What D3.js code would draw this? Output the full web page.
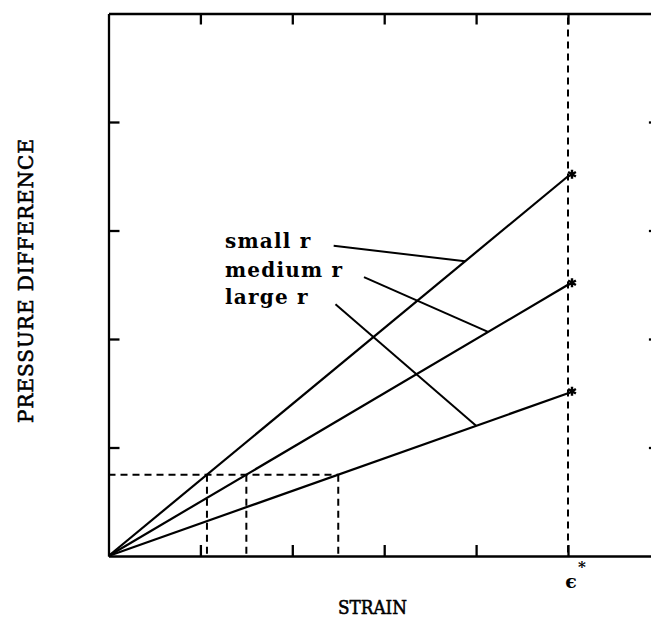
<!DOCTYPE html>
<html>
<head>
<meta charset="utf-8">
<script src="https://cdn.jsdelivr.net/npm/d3@7"></script>
<style>
  html, body { margin: 0; padding: 0; background: #fff; }
  svg { display: block; }
  text { font-family: "DejaVu Serif", "Liberation Serif", serif; fill: #000; }
</style>
</head>
<body>
<svg id="chart" width="651" height="620"></svg>
<script>
// Pressure difference vs. strain for three tube radii, each loaded up to the critical strain ε*
const seriesNames = ["small r", "medium r", "large r"];
const strainPoints = [0, 5];             // strain at origin and at ε*
const pressureSmall = [0, 3.5];
const pressureMedium = [0, 2.5];
const pressureLarge = [0, 1.5];
const pressureSeries = [pressureSmall, pressureMedium, pressureLarge];
const criticalStrain = 5;                // ε*
const referencePressure = 0.75;          // common pressure level (dashed)
const leaderStrain = [3.88, 4.13, 4.0];  // where each label's leader meets its line
const xTickValues = [1, 2, 3, 4, 5];
const yTickValues = [1, 2, 3, 4];

const svg = d3.select("#chart");

const x = d3.scaleLinear().domain([0, 6]).range([108.5, 659.9]);
const y = d3.scaleLinear().domain([0, 5]).range([556, 13.5]);

const axisStroke = 2.3;
const tick = 11;

function styleAxis(g) {
  g.selectAll("path.domain").attr("stroke", "#000").attr("stroke-width", axisStroke);
  g.selectAll(".tick line").attr("stroke", "#000").attr("stroke-width", axisStroke);
  g.selectAll(".tick text").remove();
}

// frame: four axes with inward ticks, no labels
svg.append("g").attr("transform", `translate(0,${y(0)})`)
  .call(d3.axisBottom(x).tickValues(xTickValues).tickSizeInner(-tick).tickSizeOuter(0).tickFormat(""))
  .call(styleAxis);
svg.append("g").attr("transform", `translate(0,${y(5)})`)
  .call(d3.axisTop(x).tickValues(xTickValues).tickSizeInner(-tick).tickSizeOuter(0).tickFormat(""))
  .call(styleAxis);
svg.append("g").attr("transform", `translate(${x(0)},0)`)
  .call(d3.axisLeft(y).tickValues(yTickValues).tickSizeInner(-tick).tickSizeOuter(0).tickFormat(""))
  .call(styleAxis);
svg.append("g").attr("transform", `translate(${x(6)},0)`)
  .call(d3.axisRight(y).tickValues(yTickValues).tickSizeInner(-tick).tickSizeOuter(0).tickFormat(""))
  .call(styleAxis);

const dash = "7,5";
const slopes = pressureSeries.map(p => (p[1] - p[0]) / (strainPoints[1] - strainPoints[0]));
const crossStrain = slopes.map(s => referencePressure / s);

// vertical dashed line at ε*
svg.append("line")
  .attr("x1", x(criticalStrain)).attr("x2", x(criticalStrain))
  .attr("y1", y(5) + 4).attr("y2", y(0))
  .attr("stroke", "#000").attr("stroke-width", 2).attr("stroke-dasharray", dash);

// horizontal dashed reference level, out to the shallowest line
svg.append("line")
  .attr("x1", x(0)).attr("x2", x(d3.max(crossStrain)))
  .attr("y1", y(referencePressure)).attr("y2", y(referencePressure))
  .attr("stroke", "#000").attr("stroke-width", 2).attr("stroke-dasharray", dash);

// vertical dashed drops from each crossing
svg.selectAll("line.drop").data(crossStrain).join("line")
  .attr("class", "drop")
  .attr("x1", d => x(d)).attr("x2", d => x(d))
  .attr("y1", y(referencePressure)).attr("y2", y(0))
  .attr("stroke", "#000").attr("stroke-width", 2).attr("stroke-dasharray", dash);

// the three loading lines
const line = d3.line().x((d, i) => x(strainPoints[i])).y(d => y(d));
svg.selectAll("path.series").data(pressureSeries).join("path")
  .attr("class", "series")
  .attr("d", d => line(d))
  .attr("fill", "none").attr("stroke", "#000").attr("stroke-width", 2.2);

// asterisk markers at ε*
function asterisk(r) {
  let p = "";
  for (let k = 0; k < 3; k++) {
    const a = Math.PI / 2 + k * Math.PI / 3;
    p += `M${-r * Math.cos(a)},${-r * Math.sin(a)}L${r * Math.cos(a)},${r * Math.sin(a)}`;
  }
  return p;
}
svg.selectAll("path.star").data(pressureSeries).join("path")
  .attr("class", "star")
  .attr("transform", d => `translate(${x(criticalStrain) + 4},${y(d[1]) - 2})`)
  .attr("d", asterisk(4.5))
  .attr("stroke", "#000").attr("stroke-width", 2.4);

// labels with leader lines
const labelAnchor = [[2.45, 2.86], [2.78, 2.57], [2.47, 2.32]];
const labelBaseline = [248, 277, 304];
svg.selectAll("line.leader").data(seriesNames).join("line")
  .attr("class", "leader")
  .attr("x1", (d, i) => x(labelAnchor[i][0])).attr("y1", (d, i) => y(labelAnchor[i][1]))
  .attr("x2", (d, i) => x(leaderStrain[i]))
  .attr("y2", (d, i) => y(slopes[i] * leaderStrain[i]))
  .attr("stroke", "#000").attr("stroke-width", 2);
svg.selectAll("text.lab").data(seriesNames).join("text")
  .attr("class", "lab")
  .attr("x", 225).attr("y", (d, i) => labelBaseline[i])
  .attr("font-size", 20).attr("font-weight", "bold")
  .attr("letter-spacing", 1.2)
  .text(d => d);

// axis titles
svg.append("text")
  .attr("x", 338).attr("y", 614)
  .attr("font-size", 19)
  .attr("stroke", "#000").attr("stroke-width", 0.6)
  .attr("textLength", 69).attr("lengthAdjust", "spacingAndGlyphs")
  .text("STRAIN");
svg.append("text")
  .attr("transform", "translate(33,423) rotate(-90)")
  .attr("font-size", 20)
  .attr("stroke", "#000").attr("stroke-width", 0.6)
  .attr("textLength", 284).attr("lengthAdjust", "spacing")
  .text("PRESSURE DIFFERENCE");

// ε* tick label
svg.append("text")
  .attr("x", x(criticalStrain) + 3).attr("y", 588)
  .attr("text-anchor", "middle").attr("font-size", 19).attr("font-weight", "bold")
  .text("ϵ");
svg.append("text")
  .attr("x", x(criticalStrain) + 14).attr("y", 572)
  .attr("text-anchor", "middle").attr("font-size", 15).attr("font-weight", "bold")
  .text("*");
</script>
</body>
</html>
